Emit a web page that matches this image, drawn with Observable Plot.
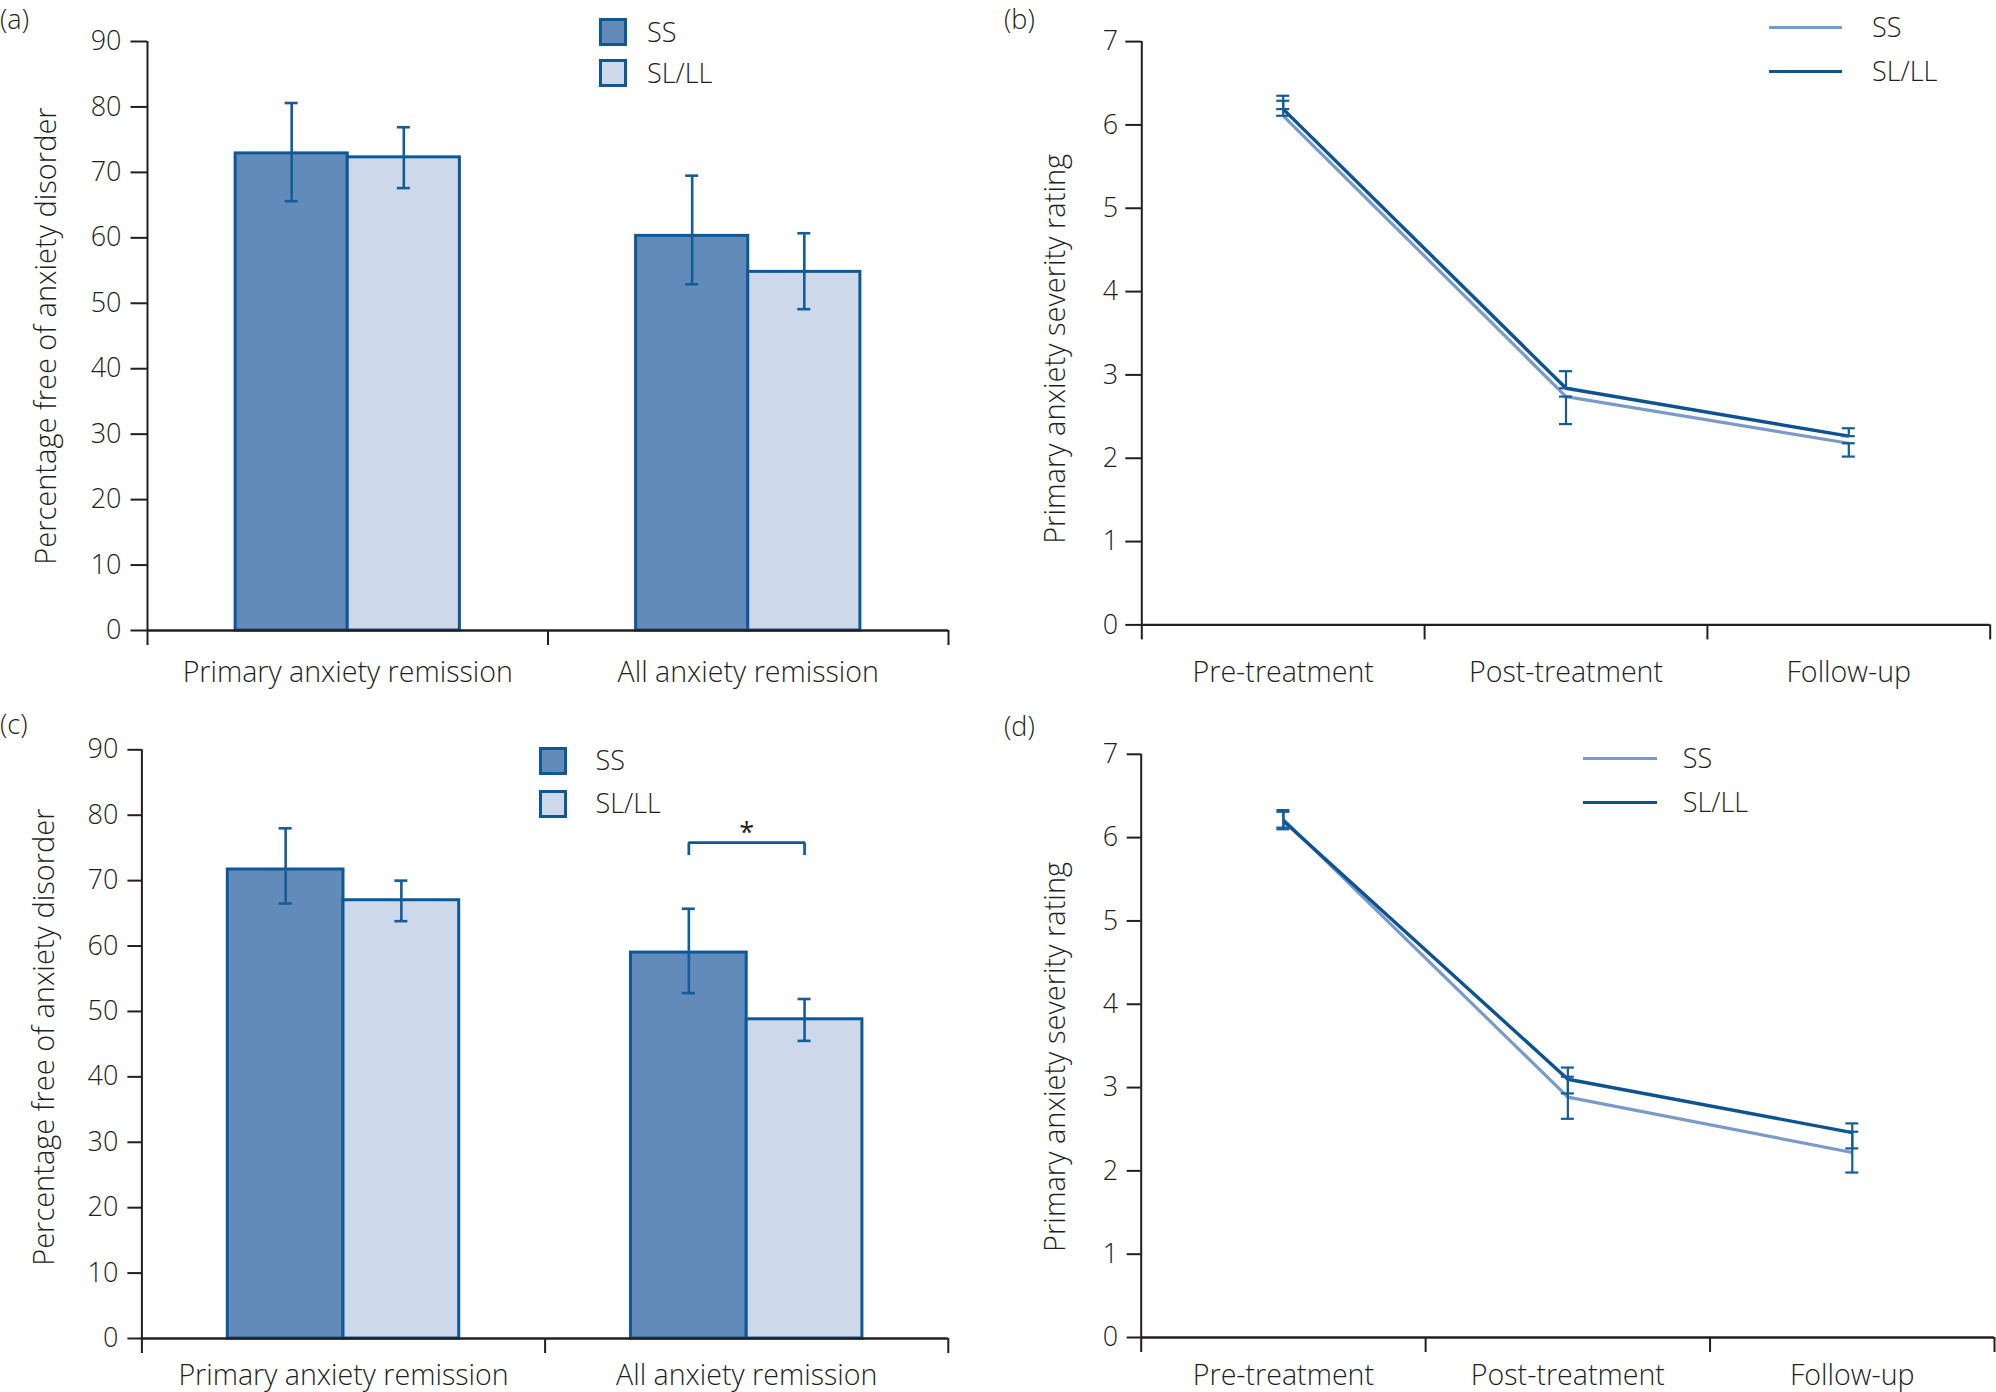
<!DOCTYPE html>
<html>
<head>
<meta charset="utf-8">
<script src="https://cdn.jsdelivr.net/npm/d3@7"></script>
<script src="https://cdn.jsdelivr.net/npm/@observablehq/plot@0.6"></script>
<style>
  html, body { margin: 0; padding: 0; background: #ffffff; }
  #page { position: relative; width: 1996px; height: 1392px; overflow: hidden;
          font-family: "Open Sans", sans-serif; font-weight: 300; color: #231f20; }
  .panel { position: absolute; }
  .plabel { position: absolute; font-size: 27px; line-height: 27px; white-space: nowrap; }
  .legtext { position: absolute; font-size: 27px; line-height: 27px; white-space: nowrap; }
  .swatch { position: absolute; box-sizing: border-box; }
</style>
</head>
<body>
<div id="page"></div>
<script>
// ---------- data ----------
const categories = ["Primary anxiety remission", "All anxiety remission"];
const groups = ["SS", "SL/LL"];
const pctTicks = [0, 10, 20, 30, 40, 50, 60, 70, 80, 90];

// panel (a)
const aSS      = [72.9, 60.3];
const aSSLow   = [65.6, 52.9];
const aSSHigh  = [80.6, 69.5];
const aSLLL     = [72.3, 54.8];
const aSLLLLow  = [67.6, 49.1];
const aSLLLHigh = [76.9, 60.7];

// panel (c)
const cSS      = [71.7, 59.0];
const cSSLow   = [66.5, 52.8];
const cSSHigh  = [78.0, 65.7];
const cSLLL     = [67.0, 48.8];
const cSLLLLow  = [63.8, 45.5];
const cSLLLHigh = [70.0, 51.9];
// significance bracket in (c): category index, bracket top, bracket foot, label and label height
const cSignificance = [{category: 1, top: 75.8, foot: 73.9, label: "*", labelY: 77.2}];

const phases = ["Pre-treatment", "Post-treatment", "Follow-up"];
const severityTicks = [0, 1, 2, 3, 4, 5, 6, 7];

// panel (b)
const bSS       = [6.11, 2.74, 2.18];
const bSSLow    = [6.11, 2.41, 2.02];
const bSSHigh   = [6.29, 2.74, 2.18];
const bSLLL     = [6.19, 2.84, 2.265];
const bSLLLLow  = [6.19, 2.84, 2.265];
const bSLLLHigh = [6.35, 3.045, 2.36];

// panel (d)
const dSS       = [6.22, 2.885, 2.22];
const dSSLow    = [6.10, 2.625, 1.98];
const dSSHigh   = [6.33, 3.13, 2.47];
const dSLLL     = [6.20, 3.10, 2.46];
const dSLLLLow  = [6.12, 2.93, 2.27];
const dSLLLHigh = [6.31, 3.24, 2.57];

// ---------- styles ----------
const C = {
  text: "#231f20",
  axis: "#231f20",
  barStroke: "#0f5898",
  ssFill: "#628bba",
  slFill: "#cdd9ea",
  err: "#155c9a",
  ssLine: "#7a9bc9",
  slLine: "#0d5391"
};
const FONT = "'Open Sans', sans-serif";
const TICK_FS = 27;
const LABEL_FS = 28.6;
const TITLE_FS = 29;

const page = document.getElementById("page");

function place(el, left, top, w, h) {
  const d = document.createElement("div");
  d.className = "panel";
  d.style.left = left + "px";
  d.style.top = top + "px";
  d.style.width = w + "px";
  d.style.height = h + "px";
  d.appendChild(el);
  page.appendChild(d);
}

function baseStyle() {
  return {fontFamily: FONT, fontSize: TICK_FS + "px", fontWeight: 300, color: C.text, background: "transparent", overflow: "visible"};
}

// ---------- bar panel ----------
function barRows(ss, ssLo, ssHi, sl, slLo, slHi, w) {
  const series = {"SS": [ss, ssLo, ssHi], "SL/LL": [sl, slLo, slHi]};
  return categories.flatMap((c, ci) => groups.map((g, gi) => {
    const [v, lo, hi] = series[g];
    const x1 = ci + 0.5 + (gi - 1) * w;
    return {category: c, group: g, value: v[ci], low: lo[ci], high: hi[ci], x1, x2: x1 + w, xc: x1 + w / 2};
  }));
}

function barPanel(o) {
  const rows = barRows(o.ss, o.ssLo, o.ssHi, o.sl, o.slLo, o.slHi, o.barW);
  const marks = [
    Plot.rectY(rows, {x1: "x1", x2: "x2", y1: 0, y2: "value", fill: "group", stroke: C.barStroke, strokeWidth: 3}),
    Plot.ruleX(rows, {x: "xc", y1: "low", y2: "high", stroke: C.err, strokeWidth: 2.6}),
    Plot.ruleY(rows, {y: "low", x1: "xc", x2: "xc", insetLeft: -6.5, insetRight: -6.5, stroke: C.err, strokeWidth: 2.6}),
    Plot.ruleY(rows, {y: "high", x1: "xc", x2: "xc", insetLeft: -6.5, insetRight: -6.5, stroke: C.err, strokeWidth: 2.6}),
    Plot.ruleY([0], {stroke: C.axis, strokeWidth: 2.6}),
    Plot.ruleX([0], {stroke: C.axis, strokeWidth: 2}),
    Plot.axisY({ticks: pctTicks, tickFormat: d3.format("d"), tickSize: o.tickSize, tickPadding: o.tickPadding,
                strokeWidth: 2, label: null, fontSize: TICK_FS}),
    Plot.axisX({ticks: [0, 1, 2], tickSize: 15, tickFormat: () => "", strokeWidth: 2, label: null}),
    Plot.axisX({ticks: categories.map((c, i) => i + 0.5), tickSize: 0, tickPadding: o.labelPad,
                tickFormat: v => categories[Math.floor(v)], label: null, fontSize: LABEL_FS}),
    Plot.text(["Percentage free of anxiety disorder"], {frameAnchor: "left", rotate: -90, dx: o.titleDx, dy: o.titleDy,
                text: d => d, textAnchor: "middle", lineAnchor: "middle", fontSize: TITLE_FS})
  ];
  if (o.sig) {
    for (const s of o.sig) {
      const pair = rows.filter(r => r.category === categories[s.category]);
      const xa = pair[0].xc, xb = pair[1].xc;
      const path = [{x: xa, y: s.foot}, {x: xa, y: s.top}, {x: xb, y: s.top}, {x: xb, y: s.foot}];
      marks.push(Plot.line(path, {x: "x", y: "y", stroke: C.barStroke, strokeWidth: 2.7, strokeLinejoin: "miter", strokeLinecap: "butt"}));
      marks.push(Plot.text([s], {x: (xa + xb) / 2, y: "labelY", text: "label", fill: C.text, fontWeight: 400, fontSize: 27}));
    }
  }
  return Plot.plot({
    width: o.width, height: o.height,
    marginLeft: o.ml, marginRight: o.mr, marginTop: o.mt, marginBottom: o.mb,
    x: {domain: [0, categories.length]},
    y: {domain: [0, 90]},
    color: {domain: groups, range: [C.ssFill, C.slFill]},
    style: baseStyle(),
    marks
  });
}

// ---------- line panel ----------
function linePanel(o) {
  const mk = (name, v, lo, hi) => phases.map((p, i) => ({phase: p, series: name, x: i + 0.5, value: v[i], low: lo[i], high: hi[i]}));
  const ss = mk("SS", o.ss, o.ssLo, o.ssHi);
  const sl = mk("SL/LL", o.sl, o.slLo, o.slHi);
  const all = ss.concat(sl);
  const marks = [
    Plot.ruleY([0], {stroke: C.axis, strokeWidth: 2.4}),
    Plot.ruleX([0], {stroke: C.axis, strokeWidth: 2}),
    Plot.line(ss, {x: "x", y: "value", stroke: C.ssLine, strokeWidth: 3.2, strokeLinejoin: "miter", strokeLinecap: "butt"}),
    Plot.line(sl, {x: "x", y: "value", stroke: C.slLine, strokeWidth: 3.4, strokeLinejoin: "miter", strokeLinecap: "butt"}),
    Plot.ruleX(all, {x: "x", y1: "low", y2: "high", stroke: C.err, strokeWidth: 2.2}),
    Plot.ruleY(all, {y: "low", x1: "x", x2: "x", insetLeft: -6.5, insetRight: -6.5, stroke: C.err, strokeWidth: 2.2}),
    Plot.ruleY(all, {y: "high", x1: "x", x2: "x", insetLeft: -6.5, insetRight: -6.5, stroke: C.err, strokeWidth: 2.2}),
    Plot.axisY({ticks: severityTicks, tickFormat: d3.format("d"), tickSize: o.tickSize, tickPadding: o.tickPadding,
                strokeWidth: 2, label: null, fontSize: TICK_FS}),
    Plot.axisX({ticks: d3.range(phases.length + 1), tickSize: 15, tickFormat: () => "", strokeWidth: 2, label: null}),
    Plot.axisX({ticks: phases.map((p, i) => i + 0.5), tickSize: 0, tickPadding: o.labelPad,
                tickFormat: v => phases[Math.floor(v)], label: null, fontSize: LABEL_FS}),
    Plot.text(["Primary anxiety severity rating"], {frameAnchor: "left", rotate: -90, dx: o.titleDx, dy: o.titleDy,
                text: d => d, textAnchor: "middle", lineAnchor: "middle", fontSize: TITLE_FS})
  ];
  return Plot.plot({
    width: o.width, height: o.height,
    marginLeft: o.ml, marginRight: o.mr, marginTop: o.mt, marginBottom: o.mb,
    x: {domain: [0, phases.length]},
    y: {domain: [0, 7]},
    style: baseStyle(),
    marks
  });
}

// ---------- legends & labels (HTML) ----------
function panelLabel(text, left, top) {
  const d = document.createElement("div");
  d.className = "plabel";
  d.style.left = left + "px";
  d.style.top = top + "px";
  d.textContent = text;
  page.appendChild(d);
}
function legendText(text, left, cy) {
  const d = document.createElement("div");
  d.className = "legtext";
  d.style.left = left + "px";
  d.style.top = (cy - 14.3) + "px";
  d.textContent = text;
  page.appendChild(d);
}
function squareLegend(x, ys, size, textX) {
  const fills = [C.ssFill, C.slFill];
  groups.forEach((g, i) => {
    const s = document.createElement("div");
    s.className = "swatch";
    s.style.left = x + "px";
    s.style.top = ys[i] + "px";
    s.style.width = size + "px";
    s.style.height = size + "px";
    s.style.background = fills[i];
    s.style.border = "3px solid " + C.barStroke;
    page.appendChild(s);
    legendText(g, textX, ys[i] + size / 2);
  });
}
function lineLegend(x1, x2, ys, textX) {
  const cols = [C.ssLine, C.slLine];
  groups.forEach((g, i) => {
    const s = document.createElement("div");
    s.className = "swatch";
    s.style.left = x1 + "px";
    s.style.top = (ys[i] - 1.6) + "px";
    s.style.width = (x2 - x1) + "px";
    s.style.height = "3.2px";
    s.style.background = cols[i];
    page.appendChild(s);
    legendText(g, textX, ys[i]);
  });
}

// ---------- build ----------
place(barPanel({
  ss: aSS, ssLo: aSSLow, ssHi: aSSHigh, sl: aSLLL, slLo: aSLLLLow, slHi: aSLLLHigh,
  barW: 0.28, width: 998, height: 696, ml: 147, mr: 50, mt: 41, mb: 66,
  tickSize: 16.5, tickPadding: 9.5, labelPad: 31, titleDx: -100.3, titleDy: 0
}), 0, 0, 998, 696);

place(barPanel({
  ss: cSS, ssLo: cSSLow, ssHi: cSSHigh, sl: cSLLL, slLo: cSLLLLow, slHi: cSLLLHigh,
  barW: 0.287, width: 998, height: 696, ml: 141.4, mr: 50.2, mt: 53.3, mb: 54,
  tickSize: 14, tickPadding: 9.6, labelPad: 26.6, titleDx: -96.7, titleDy: -7, sig: cSignificance
}), 0, 696, 998, 696);

place(linePanel({
  ss: bSS, ssLo: bSSLow, ssHi: bSSHigh, sl: bSLLL, slLo: bSLLLLow, slHi: bSLLLHigh,
  width: 998, height: 696, ml: 143.3, mr: 6.3, mt: 41.1, mb: 71.6,
  tickSize: 16, tickPadding: 7.6, labelPad: 36.6, titleDx: -85.9, titleDy: 15.6
}), 998, 0, 998, 696);

place(linePanel({
  ss: dSS, ssLo: dSSLow, ssHi: dSSHigh, sl: dSLLL, slLo: dSLLLLow, slHi: dSLLLHigh,
  width: 998, height: 696, ml: 142.7, mr: 2, mt: 57.8, mb: 55,
  tickSize: 14, tickPadding: 9, labelPad: 27.6, titleDx: -85.3, titleDy: 11
}), 998, 696, 998, 696);

panelLabel("(a)", 0, 5);
panelLabel("(b)", 1004, 5);
panelLabel("(c)", 0, 709.5);
panelLabel("(d)", 1004, 711.5);

squareLegend(599, [18.3, 59.3], 28, 647);
squareLegend(539, [747, 790], 27.5, 595.5);
lineLegend(1768.7, 1842, [27.7, 71.5], 1872);
lineLegend(1582.7, 1657, [758.2, 802.6], 1682.7);
</script>
</body>
</html>
